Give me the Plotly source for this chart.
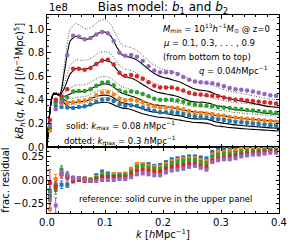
import plotly.graph_objects as go
from plotly.subplots import make_subplots

# ---------------- data ----------------
k_bins = [0.005, 0.015, 0.025, 0.035, 0.045, 0.055, 0.065, 0.075, 0.085, 0.095,
          0.105, 0.115, 0.125, 0.135, 0.145, 0.155, 0.165, 0.175, 0.185, 0.195,
          0.205, 0.215, 0.225, 0.235, 0.245, 0.255, 0.265, 0.275, 0.285, 0.295,
          0.305, 0.315, 0.325, 0.335, 0.345, 0.355, 0.365, 0.375, 0.385, 0.395]

mu_labels = ["0.1", "0.3", "0.5", "0.7", "0.9"]

# measured k*B (units of 1e8)
kB_mu01 = [0.16, 0.35, 0.34, 0.335, 0.33, 0.34, 0.345, 0.36, 0.385, 0.40,
           0.405, 0.39, 0.36, 0.35, 0.355, 0.35, 0.335, 0.32, 0.305, 0.295,
           0.295, 0.295, 0.29, 0.28, 0.27, 0.26, 0.255, 0.25, 0.245, 0.235,
           0.23, 0.22, 0.215, 0.21, 0.205, 0.20, 0.195, 0.19, 0.185, 0.18]
kB_mu03 = [0.14, 0.38, 0.37, 0.375, 0.38, 0.39, 0.395, 0.41, 0.44, 0.46,
           0.465, 0.445, 0.41, 0.395, 0.40, 0.395, 0.38, 0.36, 0.345, 0.335,
           0.335, 0.335, 0.33, 0.32, 0.305, 0.295, 0.29, 0.285, 0.28, 0.27,
           0.265, 0.255, 0.25, 0.245, 0.24, 0.235, 0.23, 0.225, 0.22, 0.215]
kB_mu05 = [0.17, 0.38, 0.40, 0.42, 0.47, 0.475, 0.475, 0.49, 0.52, 0.545,
           0.55, 0.525, 0.48, 0.465, 0.47, 0.465, 0.45, 0.43, 0.41, 0.40,
           0.40, 0.40, 0.395, 0.385, 0.37, 0.36, 0.355, 0.35, 0.345, 0.34,
           0.335, 0.33, 0.325, 0.32, 0.315, 0.31, 0.305, 0.30, 0.295, 0.29]
kB_mu07 = [0.23, 0.40, 0.43, 0.49, 0.665, 0.665, 0.655, 0.67, 0.705, 0.735,
           0.74, 0.70, 0.63, 0.605, 0.61, 0.60, 0.58, 0.55, 0.52, 0.505,
           0.505, 0.505, 0.495, 0.48, 0.46, 0.45, 0.445, 0.44, 0.435, 0.43,
           0.42, 0.41, 0.40, 0.40, 0.395, 0.39, 0.385, 0.38, 0.375, 0.37]
kB_mu09 = [0.19, 0.32, 0.38, 0.78, 0.945, 0.935, 0.915, 0.925, 0.955, 0.975,
           0.965, 0.90, 0.80, 0.775, 0.78, 0.765, 0.73, 0.685, 0.65, 0.635,
           0.635, 0.635, 0.62, 0.595, 0.57, 0.555, 0.55, 0.545, 0.54, 0.53,
           0.515, 0.50, 0.49, 0.485, 0.48, 0.47, 0.46, 0.45, 0.44, 0.435]

# model curves
k_curve = [0.0, 0.011, 0.022, 0.03, 0.04, 0.05, 0.06, 0.07, 0.08, 0.09, 0.10,
           0.11, 0.12, 0.13, 0.14, 0.15, 0.16, 0.17, 0.18, 0.19, 0.20, 0.21,
           0.22, 0.23, 0.24, 0.25, 0.26, 0.27, 0.28, 0.29, 0.30, 0.31, 0.32,
           0.33, 0.34, 0.35, 0.36, 0.37, 0.38, 0.39, 0.40]

solid_mu01 = [0.0, 0.45, 0.44, 0.37, 0.335, 0.335, 0.34, 0.35, 0.365, 0.375, 0.38,
              0.37, 0.345, 0.33, 0.325, 0.31, 0.29, 0.275, 0.265, 0.255, 0.25, 0.245,
              0.235, 0.228, 0.218, 0.21, 0.207, 0.205, 0.198, 0.18, 0.175, 0.168, 0.163,
              0.158, 0.155, 0.151, 0.148, 0.145, 0.142, 0.139, 0.136]
solid_mu03 = [0.0, 0.45, 0.44, 0.40, 0.38, 0.38, 0.385, 0.395, 0.42, 0.435, 0.44,
              0.43, 0.40, 0.375, 0.365, 0.35, 0.335, 0.315, 0.30, 0.295, 0.29, 0.28,
              0.27, 0.265, 0.25, 0.24, 0.238, 0.237, 0.23, 0.215, 0.205, 0.198, 0.19,
              0.185, 0.18, 0.176, 0.172, 0.168, 0.164, 0.161, 0.158]
solid_mu05 = [0.0, 0.45, 0.44, 0.43, 0.45, 0.47, 0.47, 0.48, 0.505, 0.525, 0.535,
              0.525, 0.49, 0.455, 0.44, 0.425, 0.405, 0.38, 0.365, 0.355, 0.35, 0.34,
              0.33, 0.32, 0.31, 0.30, 0.295, 0.295, 0.285, 0.27, 0.265, 0.26, 0.25,
              0.245, 0.24, 0.235, 0.232, 0.228, 0.224, 0.22, 0.218]
solid_mu07 = [0.0, 0.45, 0.44, 0.50, 0.62, 0.665, 0.66, 0.665, 0.69, 0.72, 0.735,
              0.72, 0.66, 0.605, 0.59, 0.575, 0.545, 0.515, 0.485, 0.465, 0.455, 0.445,
              0.435, 0.42, 0.40, 0.385, 0.38, 0.38, 0.37, 0.355, 0.345, 0.335, 0.32,
              0.315, 0.31, 0.305, 0.30, 0.29, 0.285, 0.28, 0.28]
solid_mu09 = [0.0, 0.45, 0.44, 0.64, 0.90, 0.94, 0.92, 0.915, 0.94, 0.97, 0.975,
              0.94, 0.85, 0.78, 0.765, 0.75, 0.72, 0.68, 0.64, 0.61, 0.59, 0.58,
              0.565, 0.55, 0.525, 0.50, 0.485, 0.48, 0.47, 0.45, 0.43, 0.415, 0.405,
              0.395, 0.385, 0.375, 0.365, 0.355, 0.345, 0.34, 0.335]

dotted_mu01 = [0.0, 0.46, 0.45, 0.39, 0.36, 0.365, 0.37, 0.38, 0.40, 0.415, 0.42,
               0.41, 0.385, 0.365, 0.36, 0.345, 0.325, 0.31, 0.30, 0.29, 0.285, 0.28,
               0.27, 0.262, 0.252, 0.243, 0.24, 0.238, 0.23, 0.215, 0.208, 0.20, 0.194,
               0.189, 0.185, 0.181, 0.178, 0.175, 0.172, 0.169, 0.166]
dotted_mu03 = [0.0, 0.46, 0.45, 0.42, 0.41, 0.42, 0.425, 0.435, 0.46, 0.48, 0.485,
               0.475, 0.445, 0.415, 0.405, 0.39, 0.375, 0.355, 0.34, 0.335, 0.33, 0.32,
               0.31, 0.305, 0.29, 0.28, 0.277, 0.275, 0.268, 0.252, 0.242, 0.235, 0.227,
               0.222, 0.217, 0.212, 0.208, 0.204, 0.20, 0.197, 0.194]
dotted_mu05 = [0.0, 0.46, 0.45, 0.46, 0.50, 0.525, 0.525, 0.535, 0.565, 0.59, 0.60,
               0.585, 0.545, 0.51, 0.495, 0.48, 0.46, 0.435, 0.415, 0.405, 0.40, 0.39,
               0.38, 0.37, 0.355, 0.345, 0.34, 0.34, 0.33, 0.315, 0.31, 0.305, 0.295,
               0.29, 0.285, 0.28, 0.277, 0.273, 0.27, 0.266, 0.263]
dotted_mu07 = [0.0, 0.46, 0.45, 0.54, 0.69, 0.74, 0.735, 0.74, 0.765, 0.80, 0.81,
               0.79, 0.725, 0.67, 0.655, 0.64, 0.61, 0.58, 0.55, 0.53, 0.515, 0.505,
               0.495, 0.48, 0.46, 0.445, 0.435, 0.435, 0.425, 0.41, 0.40, 0.39, 0.38,
               0.375, 0.37, 0.365, 0.36, 0.355, 0.35, 0.345, 0.34]
dotted_mu09 = [0.0, 0.46, 0.45, 0.70, 1.00, 1.05, 1.02, 1.00, 1.03, 1.07, 1.08,
               1.04, 0.94, 0.865, 0.85, 0.835, 0.80, 0.755, 0.71, 0.68, 0.66, 0.65,
               0.635, 0.615, 0.59, 0.565, 0.55, 0.545, 0.535, 0.515, 0.495, 0.48, 0.47,
               0.46, 0.45, 0.44, 0.43, 0.42, 0.41, 0.405, 0.40]

# fractional residuals w.r.t. solid curve
res_mu01 = [-0.12, -0.05, -0.05, -0.05, -0.01, 0.0, 0.01, 0.0, 0.05, 0.09,
            0.07, 0.06, 0.06, 0.06, 0.10, 0.16, 0.17, 0.17, 0.15, 0.16,
            0.19, 0.22, 0.23, 0.24, 0.25, 0.25, 0.24, 0.23, 0.30, 0.32,
            0.33, 0.33, 0.32, 0.33, 0.34, 0.33, 0.33, 0.34, 0.34, 0.33]
res_mu03 = [-0.31, 0.01, 0.08, 0.04, 0.02, 0.02, 0.02, 0.01, 0.03, 0.06,
            0.05, 0.06, 0.06, 0.07, 0.12, 0.17, 0.17, 0.15, 0.14, 0.14,
            0.17, 0.20, 0.21, 0.22, 0.23, 0.23, 0.21, 0.20, 0.27, 0.30,
            0.30, 0.31, 0.32, 0.33, 0.34, 0.34, 0.34, 0.34, 0.35, 0.34]
res_mu05 = [-0.17, -0.10, 0.11, 0.04, 0.02, 0.02, 0.01, 0.0, 0.02, 0.05,
            0.05, 0.04, 0.05, 0.05, 0.09, 0.14, 0.15, 0.13, 0.12, 0.12,
            0.15, 0.18, 0.19, 0.20, 0.21, 0.21, 0.19, 0.18, 0.25, 0.27,
            0.28, 0.28, 0.29, 0.30, 0.31, 0.31, 0.31, 0.32, 0.32, 0.32]
res_mu07 = [-0.03, -0.07, 0.06, 0.03, -0.01, 0.0, -0.01, -0.01, 0.01, 0.03,
            0.03, 0.03, 0.03, 0.03, 0.06, 0.10, 0.11, 0.10, 0.09, 0.09,
            0.12, 0.14, 0.15, 0.16, 0.17, 0.17, 0.15, 0.14, 0.21, 0.23,
            0.24, 0.25, 0.26, 0.27, 0.28, 0.29, 0.29, 0.30, 0.31, 0.31]
res_mu09 = [-0.21, -0.27, 0.06, 0.06, 0.02, 0.02, 0.0, -0.01, -0.01, 0.0,
            0.0, 0.0, 0.01, 0.01, 0.03, 0.06, 0.07, 0.06, 0.05, 0.05,
            0.08, 0.10, 0.11, 0.12, 0.14, 0.15, 0.13, 0.11, 0.19, 0.21,
            0.22, 0.22, 0.23, 0.25, 0.26, 0.27, 0.27, 0.28, 0.29, 0.29]

err_mu01 = [0.10, 0.05, 0.04, 0.03, 0.02, 0.015, 0.015, 0.012, 0.012, 0.012,
            0.01, 0.01, 0.01, 0.01, 0.01, 0.01, 0.01, 0.01, 0.01, 0.01,
            0.01, 0.01, 0.01, 0.01, 0.01, 0.01, 0.01, 0.01, 0.01, 0.01,
            0.01, 0.01, 0.01, 0.01, 0.01, 0.01, 0.01, 0.01, 0.01, 0.01]
err_mu03 = [0.05, 0.05, 0.04, 0.03, 0.02, 0.015, 0.015, 0.012, 0.012, 0.012,
            0.01, 0.01, 0.01, 0.01, 0.01, 0.01, 0.01, 0.01, 0.01, 0.01,
            0.01, 0.01, 0.01, 0.01, 0.01, 0.01, 0.01, 0.01, 0.01, 0.01,
            0.01, 0.01, 0.01, 0.01, 0.01, 0.01, 0.01, 0.01, 0.01, 0.01]
err_mu05 = [0.08, 0.05, 0.04, 0.03, 0.02, 0.015, 0.015, 0.012, 0.012, 0.012,
            0.01, 0.01, 0.01, 0.01, 0.01, 0.01, 0.01, 0.01, 0.01, 0.01,
            0.01, 0.01, 0.01, 0.01, 0.01, 0.01, 0.01, 0.01, 0.01, 0.01,
            0.01, 0.01, 0.01, 0.01, 0.01, 0.01, 0.01, 0.01, 0.01, 0.01]
err_mu07 = [0.14, 0.05, 0.04, 0.03, 0.02, 0.015, 0.015, 0.012, 0.012, 0.012,
            0.01, 0.01, 0.01, 0.01, 0.01, 0.01, 0.01, 0.01, 0.01, 0.01,
            0.01, 0.01, 0.01, 0.01, 0.01, 0.01, 0.01, 0.01, 0.01, 0.01,
            0.01, 0.01, 0.01, 0.01, 0.01, 0.01, 0.01, 0.01, 0.01, 0.01]
err_mu09 = [0.09, 0.08, 0.04, 0.03, 0.02, 0.015, 0.015, 0.012, 0.012, 0.012,
            0.01, 0.01, 0.01, 0.01, 0.01, 0.01, 0.01, 0.01, 0.01, 0.01,
            0.01, 0.01, 0.01, 0.01, 0.01, 0.01, 0.01, 0.01, 0.01, 0.01,
            0.01, 0.01, 0.01, 0.01, 0.01, 0.01, 0.01, 0.01, 0.01, 0.01]

x_ticks = [0.0, 0.1, 0.2, 0.3, 0.4]
x_tick_labels = ["0.0", "0.1", "0.2", "0.3", "0.4"]
y_ticks = [0.0, 0.2, 0.4, 0.6, 0.8, 1.0]
y_tick_labels = ["0.0", "0.2", "0.4", "0.6", "0.8", "1.0"]
r_ticks = [-0.25, 0.0, 0.25]
r_tick_labels = ["\u22120.25", "0.00", "0.25"]

# ---------------- figure ----------------
colors = ["#1f77b4", "#ff7f0e", "#2ca02c", "#d62728", "#9467bd"]
points = [kB_mu01, kB_mu03, kB_mu05, kB_mu07, kB_mu09]
solids = [solid_mu01, solid_mu03, solid_mu05, solid_mu07, solid_mu09]
dotteds = [dotted_mu01, dotted_mu03, dotted_mu05, dotted_mu07, dotted_mu09]
resids = [res_mu01, res_mu03, res_mu05, res_mu07, res_mu09]
errs = [err_mu01, err_mu03, err_mu05, err_mu07, err_mu09]

FONT = "DejaVu Sans"
fig = make_subplots(rows=2, cols=1, shared_xaxes=True, vertical_spacing=0,
                    row_heights=[2, 1])

for d in dotteds:
    fig.add_trace(go.Scatter(x=k_curve, y=d, mode="lines",
                             line=dict(color="#444444", width=0.9, dash="1px,1.6px",
                                       shape="spline", smoothing=0.6),
                             showlegend=False, hoverinfo="skip"), row=1, col=1)
for s in solids:
    fig.add_trace(go.Scatter(x=k_curve, y=s, mode="lines",
                             line=dict(color="black", width=1.1,
                                       shape="spline", smoothing=0.6),
                             showlegend=False, hoverinfo="skip"), row=1, col=1)
for p, c, m in zip(points, colors, mu_labels):
    fig.add_trace(go.Scatter(x=k_bins, y=p, mode="markers", name="mu=" + m,
                             marker=dict(color=c, size=4.5, symbol="circle"),
                             showlegend=False), row=1, col=1)
for r, e, c, m in zip(resids, errs, colors, mu_labels):
    fig.add_trace(go.Scatter(x=k_bins, y=r, mode="markers", name="mu=" + m,
                             marker=dict(color=c, size=4, symbol="square"),
                             error_y=dict(type="data", array=e, color=c,
                                          thickness=1, width=1.5),
                             showlegend=False), row=2, col=1)

axis_common = dict(showline=True, linecolor="black", linewidth=1, mirror="allticks",
                   ticks="inside", ticklen=3.5, tickwidth=0.8, tickcolor="black",
                   showgrid=False, zeroline=False, automargin=False,
                   tickfont=dict(family=FONT, size=10, color="black"))

fig.update_xaxes(range=[0, 0.4], tickvals=x_ticks, ticktext=x_tick_labels,
                 minor=dict(ticks="inside", ticklen=2, dtick=0.02, tickcolor="black",
                            tickwidth=0.6, showgrid=False),
                 **axis_common)
fig.update_xaxes(showticklabels=False, row=1, col=1)
fig.update_xaxes(title=dict(text="<i>k</i> [<i>h</i>Mpc<sup>\u22121</sup>]",
                            font=dict(family=FONT, size=10, color="black"),
                            standoff=2), row=2, col=1)

fig.update_yaxes(range=[0, 1.12], tickvals=y_ticks, ticktext=y_tick_labels,
                 minor=dict(ticks="inside", ticklen=2, dtick=0.05, tickcolor="black",
                            tickwidth=0.6, showgrid=False),
                 title=dict(text="<i>kB</i><sub><i>h</i></sub>(<i>q</i>, <i>k</i>, <i>\u03bc</i>) "
                                 "[(<i>h</i><sup>\u22121</sup>Mpc)<sup>5</sup>]",
                            font=dict(family=FONT, size=10, color="black"),
                            standoff=2),
                 row=1, col=1, **axis_common)
fig.update_yaxes(range=[-0.35, 0.35], tickvals=r_ticks, ticktext=r_tick_labels,
                 minor=dict(ticks="inside", ticklen=2, dtick=0.05, tickcolor="black",
                            tickwidth=0.6, showgrid=False),
                 title=dict(text="frac. residual",
                            font=dict(family=FONT, size=10, color="black"),
                            standoff=2),
                 row=2, col=1, **axis_common)

ann_font = dict(family=FONT, size=8.5, color="black")
annotations = [
    dict(text="1e8", xref="paper", yref="paper", x=0.0, y=1.0, xanchor="left",
         yanchor="bottom", showarrow=False, font=dict(family=FONT, size=10, color="black")),
    dict(text="<i>M</i><sub>min</sub> = 10<sup>13</sup><i>h</i><sup>\u22121</sup><i>M</i><sub>\u2299</sub> @ z=0",
         xref="x domain", yref="y domain", x=0.49, y=0.905, xanchor="left",
         yanchor="middle", showarrow=False, font=ann_font),
    dict(text="<i>\u03bc</i> = 0.1, 0.3, . . . , 0.9",
         xref="x domain", yref="y domain", x=0.49, y=0.785, xanchor="left",
         yanchor="middle", showarrow=False, font=ann_font),
    dict(text="(from bottom to top)",
         xref="x domain", yref="y domain", x=0.49, y=0.68, xanchor="left",
         yanchor="middle", showarrow=False, font=ann_font),
    dict(text="<i>q</i> = 0.04<i>h</i>Mpc<sup>\u22121</sup>",
         xref="x domain", yref="y domain", x=0.96, y=0.58, xanchor="right",
         yanchor="middle", showarrow=False, font=ann_font),
    dict(text="solid: <i>k</i><sub>max</sub> = 0.08 <i>h</i>Mpc<sup>\u22121</sup>",
         xref="x domain", yref="y domain", x=0.075, y=0.165, xanchor="left",
         yanchor="middle", showarrow=False, font=ann_font),
    dict(text="dotted: <i>k</i><sub>max</sub> = 0.3 <i>h</i>Mpc<sup>\u22121</sup>",
         xref="x domain", yref="y domain", x=0.065, y=0.055, xanchor="left",
         yanchor="middle", showarrow=False, font=ann_font),
    dict(text="reference: solid curve in the upper panel",
         xref="x2 domain", yref="y2 domain", x=0.13, y=0.21, xanchor="left",
         yanchor="middle", showarrow=False, font=ann_font),
]

fig.update_layout(
    width=291, height=242,
    margin=dict(l=47, r=12, t=15, b=29, autoexpand=False),
    paper_bgcolor="white", plot_bgcolor="white",
    title=dict(text="Bias model: <i>b</i><sub>1</sub> and <i>b</i><sub>2</sub>",
               x=0.56, xanchor="center", y=0.97, yanchor="middle",
               font=dict(family=FONT, size=12, color="black")),
    annotations=annotations,
    showlegend=False,
)

fig.write_html("out.html", config={"displayModeBar": False},
               post_script="document.body.style.margin='0';document.body.style.padding='0';")
